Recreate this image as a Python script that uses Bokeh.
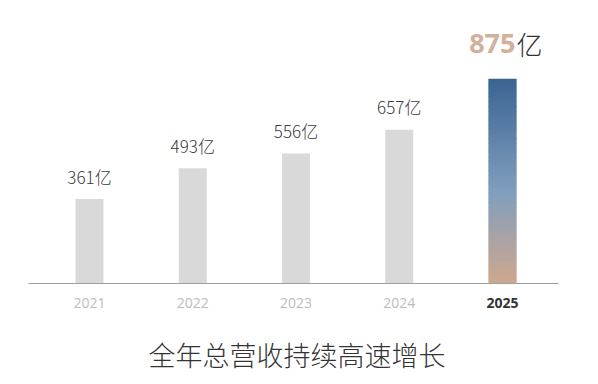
import numpy as np
from bokeh.plotting import figure
from bokeh.models import ColumnDataSource, Range1d
from bokeh.core.properties import value
from bokeh.embed import file_html
from bokeh.resources import INLINE

years = ["2021", "2022", "2023", "2024", "2025"]
revenue = [361, 493, 556, 657, 875]
labels = ["361亿", "493亿", "556亿", "657亿"]
highlight_label = "875"
unit = "亿"
title_text = "全年总营收持续高速增长"

W, H = 598, 384
px_per_slot = 103.25
first_center = 89
baseline_px = 283
px_per_unit = 0.234

x_start = -first_center / px_per_slot
x_end = (W - first_center) / px_per_slot
y_top = baseline_px / px_per_unit
y_bot = -(H - baseline_px) / px_per_unit

p = figure(width=W, height=H, output_backend="svg", toolbar_location=None,
           x_range=Range1d(x_start, x_end), y_range=Range1d(y_bot, y_top),
           min_border=0)
p.axis.visible = False
p.grid.visible = False
p.outline_line_color = None
p.background_fill_color = "white"
p.border_fill_color = "white"

xs = np.arange(len(years))
bw = 28 / px_per_slot
CJK_LIGHT = value("'Noto Sans CJK SC Light', 'Noto Sans CJK SC'")

# grey bars
src = ColumnDataSource(dict(x=xs[:-1], top=revenue[:-1], lab=labels))
p.vbar(x="x", top="top", bottom=0, width=bw, source=src,
       fill_color="#d9d9d9", line_color=None)

# gradient bar (stacked slices)
def lerp(c1, c2, t):
    return tuple(int(round(a + (b - a) * t)) for a, b in zip(c1, c2))

stops = [(0.0, (207, 168, 142)), (0.45, (128, 158, 190)), (1.0, (58, 100, 146))]
N = 160
fr = np.linspace(0, 1, N + 1)
cols = []
for i in range(N):
    t = (fr[i] + fr[i + 1]) / 2
    for (t0, c0), (t1, c1) in zip(stops[:-1], stops[1:]):
        if t0 <= t <= t1:
            c = lerp(c0, c1, (t - t0) / (t1 - t0))
            break
    cols.append("#%02x%02x%02x" % c)
last = revenue[-1]
bottoms = list(fr[:-1] * last)
tops = [min(v + last * 0.004, last) for v in fr[1:] * last]
gsrc = ColumnDataSource(dict(left=[xs[-1] - bw / 2] * N, right=[xs[-1] + bw / 2] * N,
                             bottom=bottoms, top=tops, c=cols))
p.quad(left="left", right="right", bottom="bottom", top="top", fill_color="c",
       line_color=None, source=gsrc)

# baseline
p.segment(x0=[-61 / px_per_slot], x1=[(558 - first_center) / px_per_slot], y0=[0], y1=[0],
          line_color="#9e9e9e", line_width=1)

# value labels
p.text(x="x", y="top", text="lab", source=src, text_align="center", text_baseline="alphabetic",
       y_offset=-23, text_font=CJK_LIGHT, text_font_size="17px", text_color="#3a3a3a")
p.text(x=[xs[-1]], y=[last], text=[highlight_label], text_align="right", text_baseline="alphabetic",
       y_offset=-35, x_offset=13, text_font=value("Open Sans"), text_font_style="bold",
       text_font_size="27px", text_color="#d2b09b")
p.text(x=[xs[-1]], y=[last], text=[unit], text_align="left", text_baseline="alphabetic",
       y_offset=-35, x_offset=14, text_font=CJK_LIGHT,
       text_font_size="26px", text_color="#333333")

# year labels
p.text(x=xs[:-1], y=[0] * (len(years) - 1), text=years[:-1], text_align="center",
       text_baseline="middle", y_offset=19, text_font=value("Open Sans"),
       text_font_size="14px", text_color="#bdbdbd")
p.text(x=[xs[-1]], y=[0], text=[years[-1]], text_align="center", text_baseline="middle",
       y_offset=19, text_font=value("Open Sans"), text_font_style="bold",
       text_font_size="14px", text_color="#333333")

# title
p.text(x=[2.01], y=[0], text=[title_text], text_align="center", text_baseline="middle",
       y_offset=71, text_font=CJK_LIGHT, text_font_size="27px", text_color="#333333")

open("out.html", "w").write(file_html(p, INLINE))
